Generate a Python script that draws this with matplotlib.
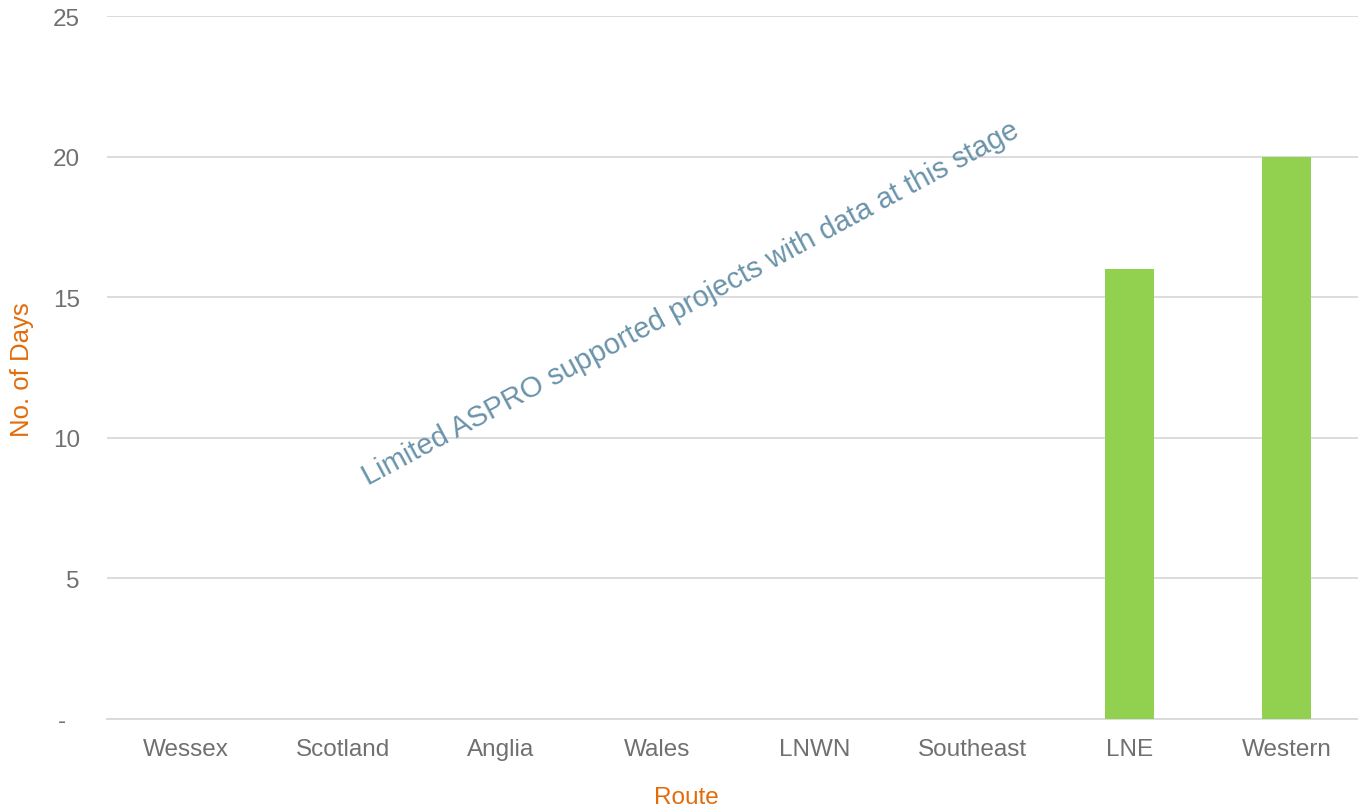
import matplotlib.pyplot as plt

routes = ['Wessex', 'Scotland', 'Anglia', 'Wales', 'LNWN', 'Southeast', 'LNE', 'Western']
days = [0, 0, 0, 0, 0, 0, 16, 20]
y_ticks = [0, 5, 10, 15, 20, 25]
y_tick_labels = ['-  ', '5', '10', '15', '20', '25']

note = 'Limited ASPRO supported projects with data at this stage'

gray = '#707070'
orange = '#E36C0A'
green = '#92D050'
grid = '#D9D9D9'

plt.rcParams['font.family'] = ['Liberation Sans', 'DejaVu Sans']

fig = plt.figure(figsize=(13.58, 8.12), dpi=100)
ax = fig.add_axes([107 / 1358, 92 / 812, 1251 / 1358, 703 / 812])

x = range(len(routes))
ax.bar(x, days, width=0.31, color=green, zorder=3)

# categories are a bit wider than the visible plot area
ax.set_xlim(-0.5, -0.5 + 1251 / 157.3)
ax.set_ylim(0, 25)
ax.set_yticks(y_ticks)
ax.set_yticklabels(y_tick_labels)
ax.set_xticks(list(x))
ax.set_xticklabels(routes)

ax.tick_params(axis='both', length=0, labelsize=17.5, labelcolor=gray)
ax.tick_params(axis='y', pad=19.5)
ax.tick_params(axis='x', pad=14)

ax.grid(axis='y', color=grid, linewidth=1.3, zorder=0)
for s in ['top', 'right', 'left']:
    ax.spines[s].set_visible(False)
ax.spines['bottom'].set_color(grid)
ax.spines['bottom'].set_linewidth(1.3)

ax.set_ylabel('No. of Days', color=orange, fontsize=18.5, va='center')
ax.yaxis.set_label_coords(-85 / 1251, 0.498)
fig.text(686 / 1358, 14 / 812, 'Route', color=orange, fontsize=17.5,
         ha='center', va='center')

ax.text(3.21, 14.8, note, rotation=28.2, rotation_mode='anchor',
        ha='center', va='center', fontsize=21, color='#6A93AA')

fig.savefig('out.png', dpi=100)
